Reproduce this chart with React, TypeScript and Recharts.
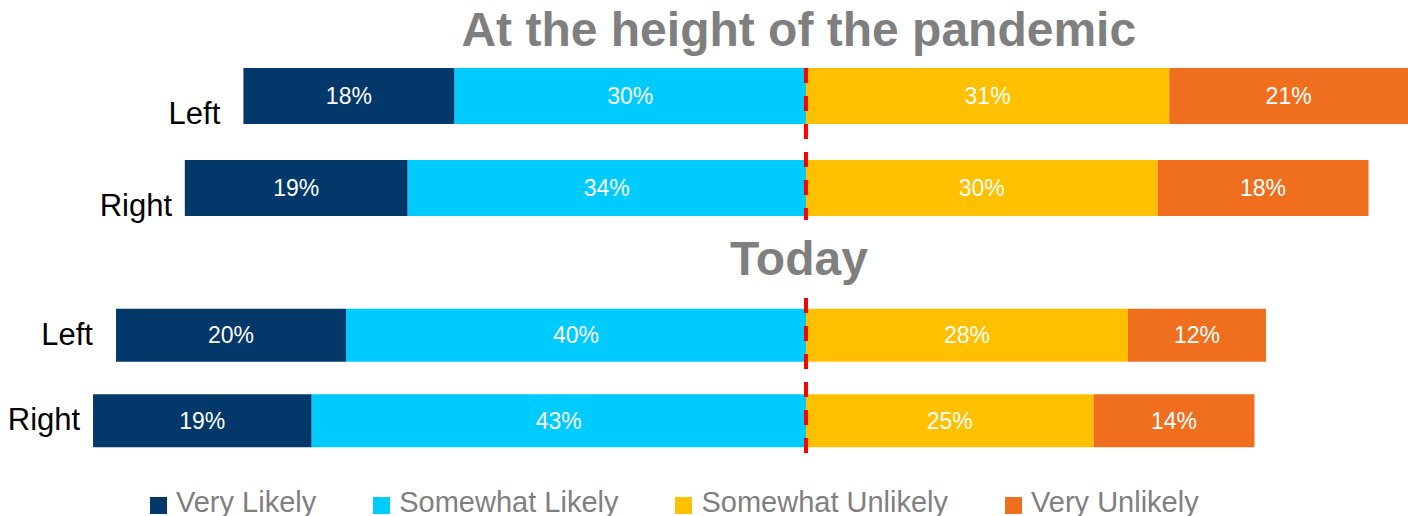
import React from 'react';
import { BarChart, Bar, XAxis, YAxis, ReferenceLine, LabelList } from 'recharts';

const FONT = '"Liberation Sans", Arial, sans-serif';

const groups = ['Left', 'Right'];
const seriesNames = ['Very Likely', 'Somewhat Likely', 'Somewhat Unlikely', 'Very Unlikely'];
const seriesColors = ['#02386A', '#00CBFF', '#FFC000', '#EF6F1F'];
const titles = ['At the height of the pandemic', 'Today'];

const pandemicVeryLikely = [18, 19];
const pandemicSomewhatLikely = [30, 34];
const pandemicSomewhatUnlikely = [31, 30];
const pandemicVeryUnlikely = [21, 18];

const todayVeryLikely = [20, 19];
const todaySomewhatLikely = [40, 43];
const todaySomewhatUnlikely = [28, 25];
const todayVeryUnlikely = [12, 14];

function buildRows(vl: number[], sl: number[], su: number[], vu: number[]) {
  return groups.map((g, i) => ({ group: g, vl: -vl[i], sl: -sl[i], su: su[i], vu: vu[i] }));
}

const pandemicRows = buildRows(pandemicVeryLikely, pandemicSomewhatLikely, pandemicSomewhatUnlikely, pandemicVeryUnlikely);
const todayRows = buildRows(todayVeryLikely, todaySomewhatLikely, todaySomewhatUnlikely, todayVeryUnlikely);

const ValueLabel = (props: any) => {
  const { x, y, width, height, value } = props;
  const cx = Number(x) + Number(width) / 2;
  const cy = Number(y) + Number(height) / 2;
  return (
    <text x={cx} y={cy} textAnchor="middle" dominantBaseline="central" fill="#FFFFFF" fontSize={23} fontFamily={FONT}>
      {Math.abs(Number(value))}%
    </text>
  );
};

const makeRowLabel = (dy: number) => (props: any) => {
  const { x, y, width, height, value } = props;
  const left = Math.min(Number(x), Number(x) + Number(width));
  return (
    <text x={left - 49} y={Number(y) + Number(height) / 2 + dy} textAnchor="middle" fill="#000000" fontSize={31} fontFamily={FONT}>
      {value}
    </text>
  );
};

const makeDashShape = (insetTop: number, insetBottom: number) => (props: any) => {
  const { x1, y1, x2, y2 } = props;
  const top = Math.min(Number(y1), Number(y2)) + insetTop;
  const bottom = Math.max(Number(y1), Number(y2)) - insetBottom;
  return <line x1={x1} x2={x2} y1={top} y2={bottom} stroke="#FF0000" strokeWidth={4} strokeDasharray="15 13" />;
};

function Panel(p: {
  rows: any[];
  height: number;
  marginTop: number;
  marginBottom: number;
  domain: [number, number];
  barSize: number;
  labelDy: number;
  lineTop: number;
  lineBottom: number;
}) {
  return (
    <BarChart
      width={1408}
      height={p.height}
      data={p.rows}
      layout="vertical"
      stackOffset="sign"
      barSize={p.barSize}
      margin={{ top: p.marginTop, right: 0, bottom: p.marginBottom, left: 0 }}
    >
      <XAxis type="number" hide domain={p.domain} allowDataOverflow />
      <YAxis type="category" dataKey="group" hide />
      <Bar dataKey="sl" stackId="a" fill={seriesColors[1]} name={seriesNames[1]} isAnimationActive={false}>
        <LabelList dataKey="sl" content={ValueLabel} />
      </Bar>
      <Bar dataKey="vl" stackId="a" fill={seriesColors[0]} name={seriesNames[0]} isAnimationActive={false}>
        <LabelList dataKey="vl" content={ValueLabel} />
        <LabelList dataKey="group" content={makeRowLabel(p.labelDy)} />
      </Bar>
      <Bar dataKey="su" stackId="a" fill={seriesColors[2]} name={seriesNames[2]} isAnimationActive={false}>
        <LabelList dataKey="su" content={ValueLabel} />
      </Bar>
      <Bar dataKey="vu" stackId="a" fill={seriesColors[3]} name={seriesNames[3]} isAnimationActive={false}>
        <LabelList dataKey="vu" content={ValueLabel} />
      </Bar>
      <ReferenceLine x={0} stroke="#FF0000" shape={makeDashShape(p.lineTop, p.lineBottom)} />
    </BarChart>
  );
}

export default function App() {
  return (
    <div style={{ position: 'absolute', left: 0, top: 0, width: 1408, height: 516, background: '#FFFFFF', overflow: 'hidden', fontFamily: FONT }}>
      <svg style={{ position: 'absolute', left: 0, top: 0 }} width={1408} height={516}>
        <text x={798.8} y={46} textAnchor="middle" fontSize={48} fontWeight="bold" fill="#7F7F7F" fontFamily={FONT}>
          {titles[0]}
        </text>
        <text x={799} y={275} textAnchor="middle" fontSize={48} fontWeight="bold" fill="#7F7F7F" fontFamily={FONT}>
          {titles[1]}
        </text>
      </svg>
      <div style={{ position: 'absolute', left: 0, top: 0 }}>
        <Panel
          rows={pandemicRows}
          height={240}
          marginTop={50}
          marginBottom={6}
          domain={[-68.77, 51.37]}
          barSize={56}
          labelDy={27.7}
          lineTop={18}
          lineBottom={14}
        />
      </div>
      <div style={{ position: 'absolute', left: 0, top: 250 }}>
        <Panel
          rows={todayRows}
          height={220}
          marginTop={42.75}
          marginBottom={6.25}
          domain={[-70.09, 52.35]}
          barSize={53}
          labelDy={9.4}
          lineTop={5.25}
          lineBottom={9.75}
        />
      </div>
      <div
        style={{
          position: 'absolute',
          left: 150,
          top: 487.5,
          display: 'flex',
          alignItems: 'flex-start',
          fontSize: 29,
          lineHeight: '29px',
          color: '#7F7F7F',
          whiteSpace: 'nowrap',
        }}
      >
        {seriesNames.map((name, i) => (
          <div key={name} style={{ display: 'flex', alignItems: 'flex-start', marginRight: 57 }}>
            <span style={{ display: 'inline-block', width: 17, height: 17, background: seriesColors[i], marginTop: 9.5, marginRight: 9 }} />
            <span>{name}</span>
          </div>
        ))}
      </div>
    </div>
  );
}
